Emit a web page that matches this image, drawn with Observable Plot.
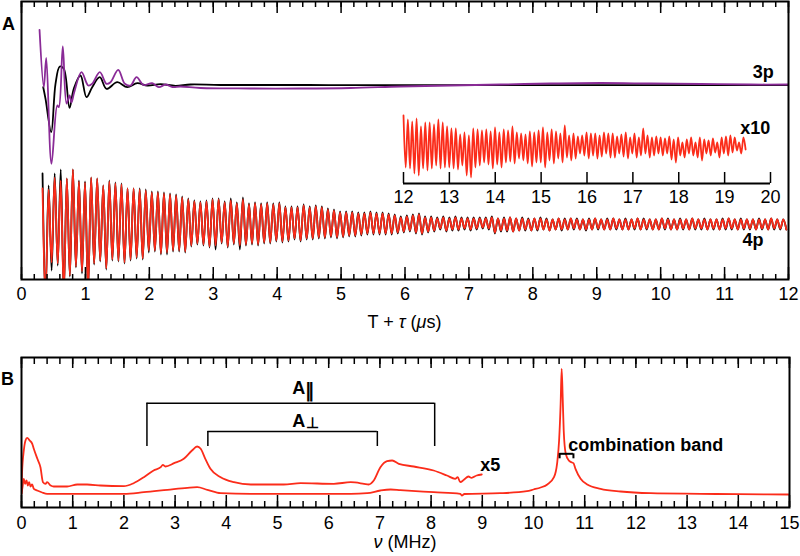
<!DOCTYPE html>
<html><head><meta charset="utf-8">
<script src="https://cdn.jsdelivr.net/npm/d3@7"></script>
<script src="https://cdn.jsdelivr.net/npm/@observablehq/plot@0.6"></script>
<style>
body{margin:0;background:#fff;}
#wrap{position:relative;width:800px;height:556px;overflow:hidden;background:#fff;}
#wrap svg{position:absolute;overflow:visible;}
</style></head><body><div id="wrap"></div>
<script>
// ---------------- Panel A : time domain (T + tau, µs) ----------------
// 3p traces: time (µs) and signal (arb. units, relative to the 3p baseline)
const p3BlackT = [0.340,0.376,0.465,0.532,0.599,0.662,0.751,0.818,0.923,1.017,1.106,1.225,1.330,1.498,1.654,1.811,1.967,2.175,2.410,2.645,3.114,4.5,6.0,8.0,10.0,12.0];
const p3BlackS = [-1.7,-13.3,-46.7,1.7,19,16.7,-22.3,-3.3,10,-11.7,-1.7,8.3,-3.3,3.3,-1.7,2.3,0,1.3,-0.3,1,0.5,0.5,0.3,0.3,0.3,0.3];
const p3PurpleT = [0.282,0.349,0.387,0.469,0.559,0.584,0.646,0.704,0.751,0.782,0.825,0.939,1.044,1.106,1.225,1.330,1.393,1.513,1.617,1.706,1.800,1.909,2.045,2.149,2.254,2.363,2.488,2.801,3.584,4.366,5.149,5.931,6.714,7.496,8.279,9.061,9.844,10.63,11.41,12.0];
const p3PurpleS = [55.7,-1.7,27.7,-78.3,-20,-21.7,39,-18,-10,-17,-6.7,13.3,0,1.7,13.3,1.7,3.3,15.7,1.7,0,8.3,0.5,2.3,-1.7,1,-1.5,-1,-2.5,-3,-3,-2.5,-1,0,1,2,2.5,2,1.5,1,1];

// 4p traces: one peak and one trough value per cycle (arb. units, relative to 4p baseline)
const p4Start = 0.329;      // µs, first peak
const p4Period = 0.095;     // µs per cycle (≈10.5 MHz)
const p4RedPeaks = [35,34,46,43,45,54,42,41,46,45,38,42,40,39,35,35,34,33,31,31,30,29,28,26,24,22,
  21,22,24,24,21,23,20,24,19,20,19,20,19,20,16,16,16,18,16,17,16,14,13,11,11,11,10,10,11,10,10,9,8,6,7,8,9,6,6,5,6,5,6,5,5,5,5,5,6,
  5,5,6,5,5,4,5,5,4,4,5,4,5,4,4,4,5,4,4,5,4,4,4,5,4,4,4,5,4,4,4,4,5,4,4,4,4,4,5,4,4,4,4,4,4,5,4,4];
const p4RedTroughs = [-70,-39,-40,-70,-52,-43,-48,-68,-40,-37,-45,-36,-37,-39,-36,-34,-35,-27,-27,-30,-29,-27,-27,-28,-22,-20,
  -21,-23,-22,-19,-23,-20,-22,-21,-20,-21,-19,-19,-17,-18,-17,-15,-17,-15,-15,-14,-14,-13,-14,-13,-12,-12,-11,-10,-10,-10,-10,-10,-9,-8,-7,-9,-10,-8,-7,-5,-7,-6,-6,-5,-6,-5,-4,-5,-9,
  -7,-7,-8,-7,-6,-7,-6,-6,-7,-6,-6,-6,-5,-6,-6,-6,-5,-6,-6,-5,-6,-6,-5,-6,-5,-6,-6,-5,-6,-6,-5,-6,-5,-5,-6,-5,-6,-5,-5,-6,-5,-5,-6,-5,-6,-5,-5,-6];
const p4BlackPeaks = [50,38,50,54,45,54,43,42,46,45,38,43,41,40,35,35,35,34,32,32,31,30,29,27,25,23,
  22,23,25,25,22,25,21,26,20,21,20,21,20,21,17,17,17,19,17,18,17,15,14,12,12,12,11,11,12,11,11,10,9,7,8,9,10,7,7,6,7,6,7,6,6,6,6,6,7,
  5,6,6,5,6,5,5,6,5,4,5,5,5,5,4,5,5,4,5,5,4,5,4,5,5,4,4,5,5,4,5,4,5,4,5,4,4,5,5,4,5,4,4,5,4,5,4,4];
const p4BlackTroughs = [-70,-47,-42,-70,-53,-44,-50,-68,-41,-38,-46,-37,-38,-40,-37,-35,-36,-29,-28,-31,-31,-28,-28,-29,-23,-21,
  -22,-24,-26,-20,-24,-21,-26,-22,-21,-22,-20,-20,-18,-19,-18,-16,-18,-16,-16,-15,-15,-14,-15,-14,-13,-13,-12,-11,-11,-11,-11,-11,-10,-9,-8,-10,-11,-9,-8,-6,-8,-7,-7,-6,-7,-6,-5,-6,-10,
  -8,-8,-8,-7,-7,-7,-7,-6,-7,-6,-7,-6,-6,-6,-7,-6,-6,-6,-6,-6,-6,-6,-6,-6,-6,-6,-6,-6,-6,-6,-6,-6,-6,-6,-6,-6,-6,-6,-6,-6,-6,-6,-6,-6,-6,-6,-6,-6];

// Inset (x10), 12–19.5 µs
const insetStart = 12.0, insetPeriod = 0.095;
const insetPeaks = [31,27,25,28,20,24,24,22,27,24,20,18,18,12,14,11,18,17,16,17,15,19,14,17,16,20,14,13,12,15,14,16,19,14,17,15,13,21,11,13,10,11,
  14,13,13,11,14,13,13,10,12,14,9,13,9,18,11,9,10,9,8,10,7,9,4,7,9,4,9,7,6,8,4,9,10,11,9,4,9];
const insetTroughs = [-21,-22,-27,-29,-22,-24,-22,-19,-22,-21,-21,-22,-23,-19,-29,-31,-21,-19,-16,-18,-22,-18,-21,-16,-15,-17,-12,-14,-17,-20,-16,-16,-21,-14,-17,-12,-16,-11,-14,-12,-7,-9,
  -12,-9,-12,-10,-7,-11,-11,-7,-10,-12,-7,-11,-9,-7,-11,-9,-7,-9,-7,-13,-16,-9,-11,-7,-9,-11,-14,-7,-9,-6,-11,-7,-9,-6,-4,-7,-3];

// trace offsets (stacking) in panel A units
const offset3p = 194, offset4p = 56, offsetInset = 37;

const ticksA = [0,1,2,3,4,5,6,7,8,9,10,11,12];
const ticksInset = [12,13,14,15,16,17,18,19,20];
const labelsA = [{x:11.44, y:202, text:"3p"}, {x:11.28, y:34, text:"4p"}];
const labelsInset = [{x:19.34, y:50, text:"x10"}];

// ---------------- Panel B : frequency domain (MHz) ----------------
const specLowF = [0,0.02,0.045,0.07,0.098,0.124,0.15,0.176,0.208,0.241,0.306,0.404,0.501,1.0,1.54,2.0,2.39,2.85,3.24,3.43,3.63,3.89,4.48,5.45,6.43,6.75,7.01,7.21,7.40,8.05,8.57,8.6,8.65,9.35,9.87,10.0,10.14,10.27,10.40,10.46,10.50,10.53,10.55,10.57,10.59,10.63,10.69,10.74,10.78,10.82,10.92,11.05,11.31,11.70,12.29,13.26,14.0,15.0];
const specLowI = [13.7,20.3,28.7,23.7,27,22,25.3,21,23,18.7,17,15,13.7,13.7,13.7,13.7,15.3,17.7,19.7,20.3,17.7,14.3,13.7,13.7,13.7,14.3,17,18,17.3,15.3,13.7,12,13.5,14.3,16.3,18,20,23,30.3,43.7,67,103.7,138.7,110.3,77,53.7,47,45.3,44.3,38.7,28.7,23,18.7,16,14.3,13.7,13.3,13];
const specX5F = [0,0.01,0.045,0.078,0.11,0.16,0.21,0.24,0.31,0.37,0.42,0.47,0.5,0.57,0.63,0.89,1.09,1.28,1.54,2.0,2.19,2.39,2.58,2.72,2.76,2.81,2.98,3.17,3.33,3.43,3.50,3.59,3.69,3.89,4.15,4.48,5.12,5.45,6.1,6.43,6.69,6.78,6.88,7.01,7.14,7.24,7.37,7.66,8.05,8.31,8.47,8.52,8.57,8.64,8.73,8.79,8.89,8.99];
const specX5I = [14,33.7,57,67,69.7,67,63.7,58.7,48.7,40.3,25.3,23.7,25.3,22,21,21,23,23,22,21.3,24.3,30.3,37,40.3,42.7,41,44.3,48.7,57,61,58.7,48.7,38.7,30.3,25.3,23,23,24.3,23.7,25.3,23.7,23,27,40.3,46.3,47,43.7,41,37,32,28.7,30.3,25.3,27.7,31,29.7,32,33];
const ticksB = [0,1,2,3,4,5,6,7,8,9,10,11,12,13,14,15];
const bracketsB = [
  {x1:2.45, x2:8.07, top:104.3, bottom:61, w:1.5},
  {x1:3.64, x2:6.95, top:76, bottom:61, w:1.5},
  {x1:10.51, x2:10.78, top:53.7, bottom:48.7, w:2}
];
const labelsB = [
  {x:5.29, y:113.7, text:"A", size:18},
  {x:5.54, y:110.3, text:"∥", size:19},
  {x:5.29, y:80.3, text:"A", size:18},
  {x:5.56, y:79.7, text:"⊥", size:15},
  {x:8.96, y:37, text:"x5", size:18},
  {x:10.68, y:57, text:"combination band", size:18}
];

// ---------------- build ----------------
const RED = "#fb2c1a", PURPLE = "#8a2b97";
const NARROW = "'Liberation Sans Narrow','Arial Narrow','Liberation Sans',Arial,sans-serif";
const BOLD = "'Liberation Sans',Arial,sans-serif";

const toSeries = (T, S, off) => T.map((t, i) => ({t, v: off + S[i]}));
function oscillation(start, period, peaks, troughs, off) {
  const out = [];
  peaks.forEach((p, k) => {
    out.push({t: start + k * period, v: off + p});
    out.push({t: start + (k + 0.5) * period, v: off + troughs[k]});
  });
  return out;
}
const p3Black = toSeries(p3BlackT, p3BlackS, offset3p);
const p3Purple = toSeries(p3PurpleT, p3PurpleS, offset3p);
const p4Black = oscillation(p4Start, p4Period, p4BlackPeaks, p4BlackTroughs, offset4p);
const p4Red = oscillation(p4Start, p4Period, p4RedPeaks, p4RedTroughs, offset4p);
const inset = oscillation(insetStart, insetPeriod, insetPeaks, insetTroughs, offsetInset);
const minorA = d3.range(0, 12.001, 0.2);
const minorB = d3.range(0, 15.001, 0.25);

const wrap = document.getElementById("wrap");

const plotA = Plot.plot({
  width: 800, height: 335,
  marginLeft: 21, marginRight: 12, marginTop: 1, marginBottom: 56,
  x: {domain: [0, 12]},
  y: {domain: [0, 278], axis: null},
  style: {fontFamily: NARROW, fontSize: "18px", color: "black", background: "transparent"},
  marks: [
    Plot.line(p3Black, {x: "t", y: "v", stroke: "black", strokeWidth: 1.8, curve: "catmull-rom", clip: true}),
    Plot.line(p3Purple, {x: "t", y: "v", stroke: PURPLE, strokeWidth: 1.8, curve: "catmull-rom", clip: true}),
    Plot.line(p4Black, {x: "t", y: "v", stroke: "black", strokeWidth: 1.8, curve: "monotone-x", clip: true}),
    Plot.line(p4Red, {x: "t", y: "v", stroke: RED, strokeWidth: 1.8, curve: "monotone-x", clip: true}),
    Plot.ruleX(minorA, {y1: 0, y2: 5, stroke: "black", strokeWidth: 1.5}),
    Plot.ruleX(ticksA, {y1: 0, y2: 12, stroke: "black", strokeWidth: 1.5}),
    Plot.ruleX(minorA, {y1: 278, y2: 272, stroke: "black", strokeWidth: 1.5}),
    Plot.ruleX(ticksA, {y1: 278, y2: 266, stroke: "black", strokeWidth: 1.5}),
    Plot.frame({stroke: "black", strokeWidth: 2}),
    Plot.axisX(ticksA, {tickSize: 0, tickPadding: 8, label: null, fontSize: 18}),
    Plot.text(labelsA, {x: "x", y: "y", text: "text", textAnchor: "start", lineAnchor: "bottom",
      fontFamily: BOLD, fontWeight: "bold", fontSize: 18, fill: "black"})
  ]
});
plotA.style.left = "0px"; plotA.style.top = "0px";
wrap.appendChild(plotA);
{
  const s = d3.select(plotA);
  s.append("text").attr("x", 2).attr("y", 29.5).attr("text-anchor", "start").attr("font-family", BOLD)
    .attr("font-weight", "bold").attr("font-size", 18).attr("fill", "black").text("A");
  const t = s.append("text").attr("x", (21 + 788) / 2).attr("y", 328).attr("text-anchor", "middle")
    .attr("font-family", NARROW).attr("font-size", 18).attr("fill", "black");
  t.append("tspan").text("T + ");
  t.append("tspan").attr("font-style", "italic").text("τ");
  t.append("tspan").text(" (");
  t.append("tspan").attr("font-style", "italic").text("μ");
  t.append("tspan").text("s)");
}

const plotInset = Plot.plot({
  width: 410, height: 110,
  marginLeft: 23, marginRight: 20, marginTop: 0, marginBottom: 27,
  x: {domain: [12, 20]},
  y: {domain: [0, 83], axis: null},
  style: {fontFamily: BOLD, fontSize: "18px", color: "black", background: "transparent"},
  marks: [
    Plot.line(inset, {x: "t", y: "v", stroke: RED, strokeWidth: 1.8, curve: "monotone-x"}),
    Plot.ruleY([0], {stroke: "black", strokeWidth: 1.8}),
    Plot.ruleX(ticksInset, {y1: 0, y2: 11, stroke: "black", strokeWidth: 1.5}),
    Plot.axisX(ticksInset, {tickSize: 0, tickPadding: 7, label: null, fontSize: 18}),
    Plot.text(labelsInset, {x: "x", y: "y", text: "text", textAnchor: "start", lineAnchor: "bottom",
      fontFamily: BOLD, fontWeight: "bold", fontSize: 18, fill: "black"})
  ]
});
plotInset.style.left = "380px"; plotInset.style.top = "100px";
wrap.appendChild(plotInset);

const plotB = Plot.plot({
  width: 800, height: 221,
  marginLeft: 21, marginRight: 11, marginTop: 22, marginBottom: 49,
  x: {domain: [0, 15]},
  y: {domain: [0, 150], axis: null},
  style: {fontFamily: NARROW, fontSize: "18px", color: "black", background: "transparent"},
  marks: [
    Plot.line(specLowF.map((f, i) => ({f, v: specLowI[i]})), {x: "f", y: "v", stroke: RED, strokeWidth: 1.8, curve: "monotone-x", clip: true}),
    Plot.line(specX5F.map((f, i) => ({f, v: specX5I[i]})), {x: "f", y: "v", stroke: RED, strokeWidth: 1.8, curve: "monotone-x", clip: true}),
    Plot.ruleY(bracketsB, {y: "top", x1: "x1", x2: "x2", stroke: "black", strokeWidth: d => d.w}),
    Plot.ruleX(bracketsB, {x: "x1", y1: "bottom", y2: "top", stroke: "black", strokeWidth: d => d.w}),
    Plot.ruleX(bracketsB, {x: "x2", y1: "bottom", y2: "top", stroke: "black", strokeWidth: d => d.w}),
    Plot.ruleX(minorB, {y1: 0, y2: 6, stroke: "black", strokeWidth: 1.5}),
    Plot.ruleX(ticksB, {y1: 0, y2: 12, stroke: "black", strokeWidth: 1.5}),
    Plot.ruleX(minorB, {y1: 150, y2: 143, stroke: "black", strokeWidth: 1.5}),
    Plot.ruleX(ticksB, {y1: 150, y2: 139, stroke: "black", strokeWidth: 1.5}),
    Plot.frame({stroke: "black", strokeWidth: 2}),
    Plot.axisX(ticksB, {tickSize: 0, tickPadding: 9, label: null, fontSize: 18}),
    Plot.text(labelsB, {x: "x", y: "y", text: "text", textAnchor: "start", lineAnchor: "bottom",
      fontFamily: BOLD, fontWeight: "bold", fontSize: d => d.size, fill: "black"})
  ]
});
plotB.style.left = "0px"; plotB.style.top = "335px";
wrap.appendChild(plotB);
{
  const s = d3.select(plotB);
  s.append("text").attr("x", 1).attr("y", 50).attr("text-anchor", "start").attr("font-family", BOLD)
    .attr("font-weight", "bold").attr("font-size", 18).attr("fill", "black").text("B");
  const t = s.append("text").attr("x", (21 + 789) / 2).attr("y", 213).attr("text-anchor", "middle")
    .attr("font-family", NARROW).attr("font-size", 18).attr("fill", "black");
  t.append("tspan").attr("font-style", "italic").text("ν");
  t.append("tspan").text(" (MHz)");
}
</script>
</body></html>
